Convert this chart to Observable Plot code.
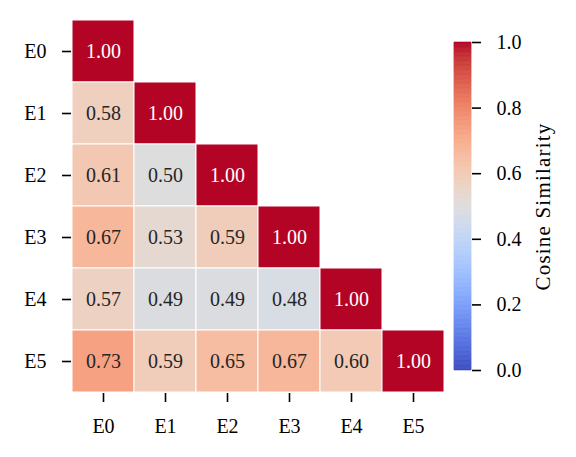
<!DOCTYPE html>
<html><head><meta charset="utf-8">
<script src="https://cdn.jsdelivr.net/npm/d3@7"></script>
<script src="https://cdn.jsdelivr.net/npm/@observablehq/plot@0.6"></script>
<style>
html,body{margin:0;padding:0;background:#fff;}
#wrap{position:relative;width:576px;height:457px;overflow:hidden;}
#wrap svg{position:absolute;top:0;font-family:"Liberation Serif","DejaVu Serif",serif !important;}
#wrap svg text{font-family:"Liberation Serif","DejaVu Serif",serif !important;}
#wrap svg .cb-label text{letter-spacing:1.2px;}
</style></head><body><div id="wrap"></div>
<script>
// ---- data ----
const labels = ["E0","E1","E2","E3","E4","E5"];
const rowE0 = [1.00];
const rowE1 = [0.58, 1.00];
const rowE2 = [0.61, 0.50, 1.00];
const rowE3 = [0.67, 0.53, 0.59, 1.00];
const rowE4 = [0.57, 0.49, 0.49, 0.48, 1.00];
const rowE5 = [0.73, 0.59, 0.65, 0.67, 0.60, 1.00];
const colorbarTicks = [0.0, 0.2, 0.4, 0.6, 0.8, 1.0];
const colorbarLabel = "Cosine Similarity";

// matplotlib "coolwarm" colormap stops
const coolwarmStops = [
  [59,76,192],[68,90,204],[77,104,215],[87,117,225],[98,130,234],[108,142,241],
  [119,154,247],[130,165,251],[141,176,254],[152,185,255],[163,194,255],[174,201,253],
  [184,208,249],[194,213,244],[204,217,238],[213,219,230],[221,221,221],[229,216,209],
  [236,211,197],[241,204,184],[245,196,172],[247,187,159],[247,177,147],[247,166,134],
  [244,154,123],[241,141,111],[236,127,99],[229,112,89],[222,96,78],[213,80,69],
  [203,62,56],[192,40,47],[180,4,38]
].map(([r,g,b]) => `rgb(${r},${g},${b})`);
const coolwarmInterp = d3.piecewise(d3.interpolateRgb, coolwarmStops);
const coolwarm = t => coolwarmInterp(Math.max(0, Math.min(1, t)));

const rows = [rowE0, rowE1, rowE2, rowE3, rowE4, rowE5];
const data = rows.flatMap((r, i) => r.map((v, j) => ({row: labels[i], col: labels[j], value: v})));

const FS = 20;
const colorOpts = {type: "linear", domain: [0, 1], interpolate: t => coolwarm(t)};

const main = Plot.plot({
  width: 576, height: 457,
  marginTop: 19, marginBottom: 64, marginLeft: 71, marginRight: 131,
  style: {fontSize: FS + "px", background: "transparent", color: "#000"},
  x: {domain: labels, padding: 0, label: null},
  y: {domain: labels, padding: 0, label: null},
  color: colorOpts,
  marks: [
    Plot.cell(data, {x: "col", y: "row", fill: "value", stroke: "white", strokeWidth: 1}),
    Plot.text(data.filter(d => d.value >= 0.9), {x: "col", y: "row", text: d => d.value.toFixed(2), fill: "white", fontSize: FS}),
    Plot.text(data.filter(d => d.value < 0.9), {x: "col", y: "row", text: d => d.value.toFixed(2), fill: "#262626", fontSize: FS}),
    Plot.axisX({tickSize: 9, tickPadding: 16, strokeWidth: 1.6, fontSize: FS, label: null}),
    Plot.axisY({tickSize: 9, tickPadding: 16, strokeWidth: 1.6, fontSize: FS, label: null})
  ]
});
main.style.left = "0px";
document.getElementById("wrap").appendChild(main);

const nSteps = 256;
const bar = Plot.plot({
  width: 136, height: 457,
  marginTop: 42, marginBottom: 87, marginLeft: 14, marginRight: 105,
  style: {fontSize: FS + "px", background: "transparent", color: "#000"},
  x: {domain: [0, 1], axis: null},
  y: {domain: [0, 1]},
  color: colorOpts,
  marks: [
    Plot.rect(d3.range(nSteps), {
      x1: 0, x2: 1,
      y1: i => i / nSteps, y2: i => (i + 1) / nSteps,
      fill: i => (i + 0.5) / nSteps, stroke: i => (i + 0.5) / nSteps, strokeWidth: 0.6
    }),
    Plot.axisY({anchor: "right", ticks: colorbarTicks, tickFormat: d3.format(".1f"), tickSize: 9, tickPadding: 16, strokeWidth: 1.6, fontSize: FS, label: null}),
    Plot.text([colorbarLabel], {frameAnchor: "right", textAnchor: "middle", lineAnchor: "middle", rotate: -90, dx: 72, fontSize: 21, fill: "#000", className: "cb-label"})
  ]
});
bar.style.left = "440px";
document.getElementById("wrap").appendChild(bar);
</script>
</body></html>
